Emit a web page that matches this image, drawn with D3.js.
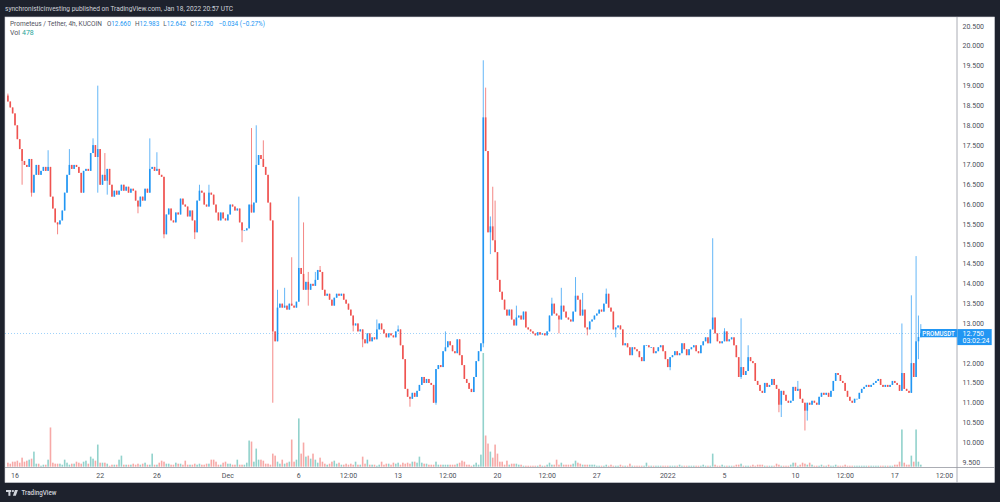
<!DOCTYPE html>
<html><head><meta charset="utf-8">
<script src="https://cdn.jsdelivr.net/npm/d3@7"></script>
<style>html,body{margin:0;padding:0;background:#1e222d;overflow:hidden}svg{display:block}</style>
</head><body><svg id="c" width="1000" height="502"></svg>
<script>
// ---- data (PROM/USDT 4h, KUCOIN, Nov 15 2021 12:00 UTC → Jan 18 2022 20:00 UTC) ----
const firstOpen = 18.75;
const closes = [
18.6,18.45,18.3,18.0,17.65,17.4,17.1,17.0,16.95,17.15,
16.3,16.75,17.0,16.75,16.85,16.95,16.85,16.95,16.2,15.9,
15.55,15.5,15.6,15.85,16.3,16.75,17.0,16.9,17.0,16.95,
16.8,16.3,16.85,16.9,16.85,17.3,17.5,17.2,17.4,16.5,
16.75,16.6,16.9,16.5,16.2,16.35,16.25,16.35,16.5,16.35,
16.45,16.3,16.4,16.35,16.1,15.95,16.2,16.1,16.4,16.3,
16.9,16.95,16.85,16.9,16.75,16.7,15.25,15.75,15.9,15.6,
15.55,15.8,15.75,16.15,16.0,15.95,15.7,15.85,15.6,15.3,
16.1,16.35,16.3,16.0,15.95,16.3,16.25,16.0,15.8,15.6,
15.8,15.65,15.6,15.75,16.0,15.95,15.85,15.9,15.55,15.35,
15.35,15.4,16.0,15.8,16.05,17.0,17.25,17.15,16.95,16.75,
16.05,15.6,12.8,12.55,13.4,13.5,13.4,13.45,13.35,13.5,
13.45,13.4,13.55,14.4,14.25,13.85,14.05,13.85,14.0,13.95,
14.1,14.35,14.3,13.85,13.7,13.75,13.6,13.45,13.65,13.75,
13.7,13.75,13.6,13.5,13.35,13.2,12.95,13.0,12.8,12.85,
12.6,12.5,12.75,12.55,12.65,12.6,12.85,13.0,12.85,12.75,
12.65,12.75,12.7,12.65,12.8,12.85,12.45,12.1,11.35,11.15,
11.1,11.25,11.15,11.3,11.45,11.65,11.5,11.6,11.5,11.45,
11.0,11.85,11.95,11.9,12.3,12.4,12.55,12.45,12.3,12.25,
12.6,12.2,11.95,11.6,11.5,11.35,11.27,11.65,12.05,12.3,
12.5,18.2,17.35,15.3,15.45,15.1,14.8,14.1,13.8,13.6,
13.35,13.2,13.35,13.1,12.95,13.15,13.2,13.1,13.3,12.9,
12.85,12.8,12.75,12.7,12.78,12.72,12.75,12.7,12.8,13.2,
13.5,13.25,13.2,13.1,13.45,13.3,13.15,13.1,13.05,13.3,
13.7,13.6,13.2,13.35,12.9,12.85,13.05,13.1,13.2,13.25,
13.35,13.3,13.5,13.75,13.4,13.3,12.85,12.9,12.95,12.85,
12.45,12.5,12.4,12.2,12.4,12.35,12.3,12.15,12.05,12.45,
12.45,12.4,12.4,12.25,12.3,12.4,12.45,12.3,12.1,11.9,
12.15,12.2,12.3,12.2,12.25,12.5,12.35,12.2,12.35,12.4,
12.45,12.3,12.25,12.45,12.55,12.65,12.5,12.85,13.15,12.75,
12.55,12.5,12.55,12.8,12.55,12.6,12.65,12.45,12.15,11.65,
11.9,11.7,11.8,12.15,12.05,12.0,11.55,11.45,11.3,11.25,
11.5,11.4,11.45,11.6,11.45,11.35,10.95,11.3,11.2,11.05,
11.0,11.05,11.4,11.3,11.35,11.1,11.0,10.8,11.0,10.95,
11.05,11.0,10.95,11.15,11.25,11.2,11.25,11.15,11.3,11.55,
11.75,11.7,11.55,11.5,11.3,11.15,11.05,11.0,11.1,11.1,
11.25,11.35,11.4,11.45,11.4,11.45,11.5,11.55,11.6,11.45,
11.4,11.45,11.4,11.45,11.55,11.5,11.45,11.3,11.75,11.35,
11.3,11.25,12.0,11.65,12.55,12.66,12.75
];
// volume (approximate, relative units)
const volumes = [
4,3,5,5,6,4,9,5,6,7, 8,15,3,3,1,2,2,7,39,4, 3,3,3,2,7,4,2,3,3,5, 4,3,5,6,3,10,8,6,22,4,
4,4,3,1,2,2,2,7,11,2, 2,2,2,3,2,3,2,3,4,2, 2,13,2,2,4,6,5,3,3,2, 2,4,3,3,2,6,2,2,2,3,
2,3,2,2,3,3,7,7,5,2, 2,4,5,3,3,2,2,7,2,2, 2,4,26,25,5,18,7,7,6,3, 3,2,13,11,5,3,7,3,4,5,
27,5,7,48,13,24,10,11,8,13, 7,4,9,5,3,2,3,5,6,3, 4,2,2,3,2,3,2,5,2,2, 10,3,7,2,2,2,1,2,5,2,
3,3,2,4,3,4,2,4,3,4, 3,5,5,4,10,4,3,3,2,2, 2,5,2,2,2,2,2,2,2,2, 3,4,6,5,2,2,1,2,4,2,
12,113,31,23,15,9,22,13,5,5, 2,6,2,3,3,3,2,2,1,1, 1,1,1,1,1,2,1,1,2,4, 2,2,7,2,4,2,2,2,2,3,
6,4,3,2,2,2,2,2,2,1, 1,1,1,2,1,2,1,1,1,2, 1,1,1,3,1,1,1,1,1,1, 4,1,1,1,1,1,1,1,1,1,
1,1,1,1,2,1,1,1,1,1, 1,1,1,1,2,1,1,1,13,2, 1,1,2,1,1,1,1,1,2,2, 3,1,1,1,1,2,1,2,2,2,
1,1,1,1,1,3,2,1,1,1, 1,2,4,4,1,2,4,3,2,4, 2,1,1,1,2,1,1,2,1,1, 2,1,1,1,2,1,1,1,1,1,
1,1,1,1,1,1,1,1,1,1, 1,1,1,1,1,2,2,5,37,4, 2,2,11,5,37,5,2
];
// [candle index, high, low] for visible wicks (null = body edge)
const wicks = [
[0,18.8,null],[6,null,16.5],[10,null,16.2],[17,17.37,null],[21,null,15.25],[26,17.4,null],
[36,17.67,null],[38,19.0,16.3],[41,17.3,null],[42,null,16.25],[55,null,15.78],[60,17.67,null],
[63,17.32,null],[66,null,15.15],[79,null,15.13],[81,16.5,null],[85,16.5,null],[99,null,15.05],
[103,17.93,null],[105,18.0,null],[108,17.62,null],[112,15.6,11.0],[114,13.85,null],[117,13.9,null],
[120,14.67,null],[123,16.2,null],[125,15.55,null],[127,14.3,13.45],[130,14.3,null],[132,14.45,null],
[146,null,12.8],[150,null,12.4],[156,13.1,null],[165,12.95,null],[170,null,10.9],[181,null,10.95],
[185,12.8,null],[201,19.64,12.4],[202,18.95,null],[204,15.7,14.75],[205,16.45,null],[206,16.1,null],
[215,13.45,null],[230,13.65,null],[233,null,12.75],[234,13.9,null],[240,14.17,null],[243,13.77,null],
[245,null,12.7],[253,13.88,null],[257,null,12.65],[280,null,11.82],[298,15.15,null],[303,12.88,null],
[310,13.13,11.6],[313,12.45,null],[326,null,10.76],[327,null,10.64],[334,11.55,null],[337,null,10.3],
[338,null,10.55],[378,13.0,null],[382,13.71,null],[384,14.7,null],[385,13.2,12.1],[386,12.983,12.642]
];
const priceTicks = [9.5,10,10.5,11,11.5,12,12.5,13,13.5,14,14.5,15,15.5,16,16.5,17,17.5,18,18.5,19,19.5,20,20.5];
const timeTicks = [
["2021-11-16T00:00Z","16"],["2021-11-22T00:00Z","22"],["2021-11-26T00:00Z","26"],["2021-12-01T00:00Z","Dec"],
["2021-12-06T00:00Z","6"],["2021-12-09T12:00Z","12:00"],["2021-12-13T00:00Z","13"],["2021-12-16T12:00Z","12:00"],
["2021-12-20T00:00Z","20"],["2021-12-23T12:00Z","12:00"],["2021-12-27T00:00Z","27"],["2022-01-01T00:00Z","2022"],
["2022-01-05T00:00Z","5"],["2022-01-10T00:00Z","10"],["2022-01-13T12:00Z","12:00"],["2022-01-17T00:00Z","17"],
["2022-01-20T12:00Z","12:00"]
];
const lastPrice = 12.75;
const headerText = "synchronisticinvesting published on TradingView.com, Jan 18, 2022 20:57 UTC";
const legendTitle = "Prometeus / Tether, 4h, KUCOIN";
const legendOHLC = [["O","12.660"],["H","12.983"],["L","12.642"],["C","12.750"]];
const legendChange = "\u22120.034 (\u22120.27%)";
const legendVol = "478";

// ---- build candles ----
const startTime = Date.UTC(2021,10,15,12);
const H4 = 4*3600*1000;
const wickMap = new Map(wicks.map(w => [w[0], w]));
const candles = closes.map((c,i) => {
  const o = i === 0 ? firstOpen : closes[i-1];
  const w = wickMap.get(i);
  const hi = w && w[1] != null ? w[1] : Math.max(o,c);
  const lo = w && w[2] != null ? w[2] : Math.min(o,c);
  return {t:new Date(startTime + i*H4), o, h:hi, l:lo, c, v:volumes[i]};
});

// ---- layout ----
const svg = d3.select("#c");
const font = "Roboto, 'Open Sans', sans-serif";
const P = {left:5, right:957, top:17, bottom:467.5, panelRight:994.5, panelBottom:482.5};
const UP = "#2196f3", DOWN = "#ef5350";
const VUP = "#92d2cc", VDOWN = "#f7a9a7";
const fit = (sel, len) => sel.attr("textLength", len).attr("lengthAdjust","spacingAndGlyphs");

svg.append("rect").attr("width",1000).attr("height",502).attr("fill","#1e222d");
fit(svg.append("text").attr("x",5).attr("y",10.5).attr("fill","#d1d4dc")
  .attr("font-family",font).attr("font-size",7.2).text(headerText), 228);
svg.append("rect").attr("x",P.left).attr("y",P.top).attr("width",P.panelRight-P.left)
  .attr("height",P.panelBottom-P.top).attr("fill","#ffffff").attr("stroke","#d6d8de").attr("stroke-width",0.6);

const x = d3.scaleTime()
  .domain([new Date(Date.UTC(2021,10,16)), new Date(Date.UTC(2022,0,17))])
  .range([15, 894.8]);
const y = d3.scaleLinear().domain([9.5,20.5]).range([462.2,26.2]);
const vBase = 466.7;
const yv = d3.scaleLinear().domain([0, d3.max(volumes)]).range([vBase, vBase-113.7]);

svg.append("defs").append("clipPath").attr("id","plot").append("rect")
  .attr("x",P.left).attr("y",P.top).attr("width",P.right-P.left).attr("height",P.bottom-P.top);
const g = svg.append("g").attr("clip-path","url(#plot)");

// volume
const bw = 1.6;
g.append("g").selectAll("rect").data(candles).join("rect")
  .attr("x",d=>x(d.t)-bw/2).attr("width",bw)
  .attr("y",d=>yv(d.v)).attr("height",d=>Math.max(0.8, vBase-yv(d.v)))
  .attr("fill",d=>d.c>=d.o?VUP:VDOWN);

// last price dotted line
g.append("line").attr("x1",P.left).attr("x2",P.right).attr("y1",y(lastPrice)).attr("y2",y(lastPrice))
  .attr("stroke",UP).attr("stroke-width",0.7).attr("stroke-dasharray","1,2").attr("opacity",0.7);

// candles
const cg = g.append("g");
cg.selectAll("line").data(candles).join("line")
  .attr("x1",d=>x(d.t)).attr("x2",d=>x(d.t)).attr("y1",d=>y(d.h)).attr("y2",d=>y(d.l))
  .attr("stroke",d=>d.c>=d.o?UP:DOWN).attr("stroke-width",0.7);
cg.selectAll("rect").data(candles).join("rect")
  .attr("x",d=>x(d.t)-bw/2).attr("width",bw)
  .attr("y",d=>y(Math.max(d.o,d.c)))
  .attr("height",d=>Math.max(0.7, Math.abs(y(d.o)-y(d.c))))
  .attr("fill",d=>d.c>=d.o?UP:DOWN);

// axes lines
svg.append("line").attr("x1",P.right).attr("x2",P.right).attr("y1",P.top).attr("y2",P.panelBottom)
  .attr("stroke","#9598a1").attr("stroke-width",0.8);
svg.append("line").attr("x1",P.left).attr("x2",P.panelRight).attr("y1",P.bottom).attr("y2",P.bottom)
  .attr("stroke","#9598a1").attr("stroke-width",0.8);

// price axis labels (the one under the last-price box is hidden, as in the reference)
const fmt = d3.format(".3f");
const ly = y(lastPrice);
svg.append("g").selectAll("text").data(priceTicks.filter(t => Math.abs(y(t) - (ly+3.7)) > 11)).join("text")
  .attr("x",962.5).attr("y",d=>y(d)).attr("dy","0.35em")
  .attr("font-family",font).attr("font-size",7).attr("fill","#4c4f59").text(d=>fmt(d));

// time axis labels
svg.append("g").selectAll("text").data(timeTicks).join("text")
  .attr("x",d=>x(new Date(d[0]))).attr("y",475.5).attr("dy","0.35em").attr("text-anchor","middle")
  .attr("font-family",font).attr("font-size",7).attr("fill","#4c4f59").text(d=>d[1]);

// last price labels
svg.append("rect").attr("x",920.5).attr("y",ly-4.3).attr("width",36.5).attr("height",8.2).attr("fill",UP).attr("rx",0.5);
fit(svg.append("text").attr("x",922.3).attr("y",ly).attr("dy","0.35em")
  .attr("font-family",font).attr("font-size",6.5).attr("font-weight",500).attr("fill","#fff").text("PROMUSDT"), 32.5);
svg.append("rect").attr("x",957.3).attr("y",ly-4.3).attr("width",34.4).attr("height",16).attr("fill",UP);
svg.append("text").attr("x",962.5).attr("y",ly-0.3).attr("dy","0.35em")
  .attr("font-family",font).attr("font-size",7).attr("fill","#fff").text(fmt(lastPrice));
svg.append("text").attr("x",962.5).attr("y",ly+7.2).attr("dy","0.35em")
  .attr("font-family",font).attr("font-size",7).attr("fill","#fff").text("03:02:24");

// legend
const lg = svg.append("g").attr("font-family",font).attr("font-size",7);
fit(lg.append("text").attr("x",10).attr("y",25.5).attr("fill","#50535e").text(legendTitle), 92);
const lx = [107,135,163.3,190.3];
const lw = [23.7,24.3,22.7,23];
legendOHLC.forEach((d,i)=>{
  const t = lg.append("text").attr("x",lx[i]).attr("y",25.5);
  fit(t, lw[i]);
  t.append("tspan").attr("fill","#50535e").text(d[0]);
  t.append("tspan").attr("fill",UP).text(d[1]);
});
fit(lg.append("text").attr("x",218.5).attr("y",25.5).attr("fill",UP).text(legendChange), 46.5);
lg.append("text").attr("x",10).attr("y",34.5).attr("fill","#50535e").text("Vol");
lg.append("text").attr("x",22).attr("y",34.5).attr("fill","#26a69a").text(legendVol);

// TradingView logo
const logo = svg.append("g").attr("fill","#d1d4dc");
logo.append("rect").attr("x",6).attr("y",490).attr("width",5.2).attr("height",2);
logo.append("rect").attr("x",8.4).attr("y",490).attr("width",2).attr("height",5.8);
logo.append("circle").attr("cx",12.9).attr("cy",491.1).attr("r",1.1);
logo.append("path").attr("d","M14.9,490 L17.9,490 L15.8,495.8 L12.9,495.8 Z");
fit(svg.append("text").attr("x",21.5).attr("y",495.3).attr("fill","#d1d4dc")
  .attr("font-family",font).attr("font-size",7.3).attr("font-weight",500).text("TradingView"), 35);
</script></body></html>
